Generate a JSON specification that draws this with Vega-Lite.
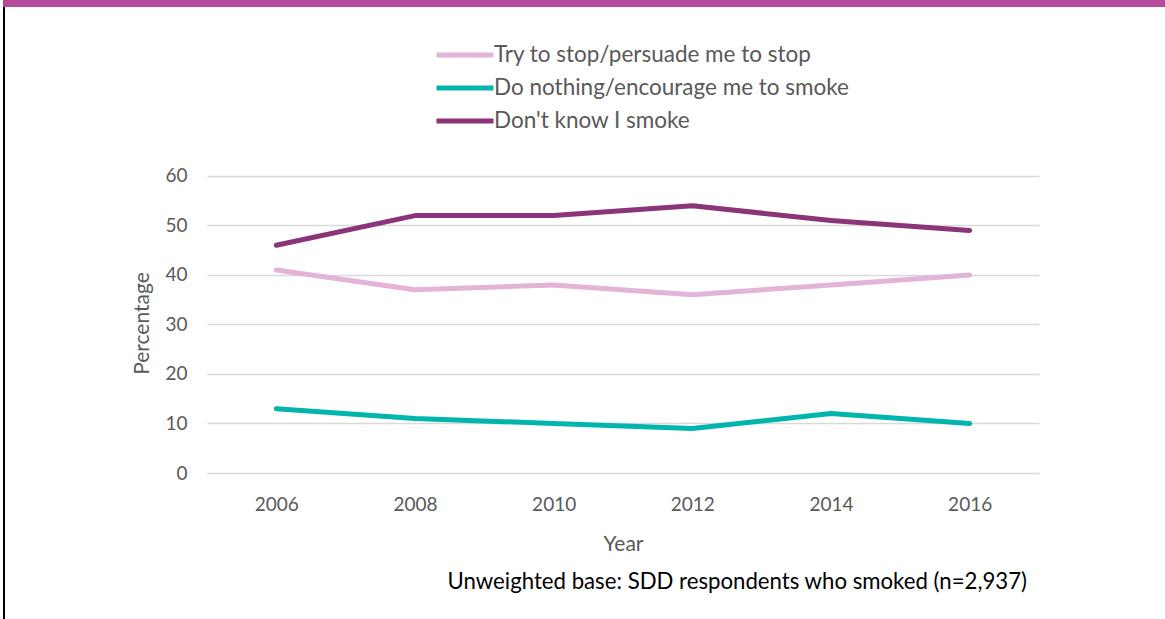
{
  "$schema": "https://vega.github.io/schema/vega-lite/v6.json",
  "padding": {"left": 3, "top": 0, "right": 0, "bottom": 0},
  "background": "white",
  "config": {
    "font": "Lato",
    "view": {"stroke": null},
    "concat": {"spacing": 0}
  },
  "spacing": 0,
  "vconcat": [
    {
      "width": 1162,
      "height": 7,
      "data": {"values": [{"part": "top border"}]},
      "mark": {"type": "rect", "color": "#b54a9a"},
      "encoding": {}
    },
    {
      "spacing": 126,
      "hconcat": [
        {
          "width": 2,
          "height": 612,
          "data": {"values": [{"part": "left border"}]},
          "mark": {"type": "rect", "color": "#000000"},
          "encoding": {}
        },
        {
          "width": 832,
          "height": 466,
          "data": {
            "values": [
              {"year": "2006", "response": "Try to stop/persuade me to stop", "pct": 41},
              {"year": "2008", "response": "Try to stop/persuade me to stop", "pct": 37},
              {"year": "2010", "response": "Try to stop/persuade me to stop", "pct": 38},
              {"year": "2012", "response": "Try to stop/persuade me to stop", "pct": 36},
              {"year": "2014", "response": "Try to stop/persuade me to stop", "pct": 38},
              {"year": "2016", "response": "Try to stop/persuade me to stop", "pct": 40},
              {"year": "2006", "response": "Do nothing/encourage me to smoke", "pct": 13},
              {"year": "2008", "response": "Do nothing/encourage me to smoke", "pct": 11},
              {"year": "2010", "response": "Do nothing/encourage me to smoke", "pct": 10},
              {"year": "2012", "response": "Do nothing/encourage me to smoke", "pct": 9},
              {"year": "2014", "response": "Do nothing/encourage me to smoke", "pct": 12},
              {"year": "2016", "response": "Do nothing/encourage me to smoke", "pct": 10},
              {"year": "2006", "response": "Don't know I smoke", "pct": 46},
              {"year": "2008", "response": "Don't know I smoke", "pct": 52},
              {"year": "2010", "response": "Don't know I smoke", "pct": 52},
              {"year": "2012", "response": "Don't know I smoke", "pct": 54},
              {"year": "2014", "response": "Don't know I smoke", "pct": 51},
              {"year": "2016", "response": "Don't know I smoke", "pct": 49}
            ]
          },
          "title": {
            "text": "Unweighted base: SDD respondents who smoked (n=2,937)",
            "orient": "bottom",
            "anchor": "end",
            "frame": "group",
            "dx": -12,
            "offset": 17,
            "fontSize": 22.2,
            "fontWeight": "normal",
            "color": "#000000"
          },
          "mark": {"type": "line", "strokeWidth": 5, "strokeCap": "round", "strokeJoin": "round"},
          "encoding": {
            "x": {
              "field": "year",
              "type": "ordinal",
              "scale": {"type": "point", "padding": 0.5},
              "axis": {
                "title": "Year",
                "labelAngle": 0,
                "labelFontSize": 19,
                "labelColor": "#595959",
                "labelPadding": 22,
                "ticks": false,
                "domain": false,
                "grid": false,
                "titleFontSize": 21,
                "titleFontWeight": "normal",
                "titleColor": "#595959",
                "titlePadding": 19
              }
            },
            "y": {
              "field": "pct",
              "type": "quantitative",
              "scale": {"domain": [0, 94.14], "nice": false, "zero": true},
              "axis": {
                "title": "Percentage",
                "values": [0, 10, 20, 30, 40, 50, 60],
                "labelFontSize": 19,
                "labelColor": "#595959",
                "labelPadding": 20,
                "ticks": false,
                "domain": false,
                "grid": true,
                "gridColor": "#d9d9d9",
                "gridWidth": 1.5,
                "titleFontSize": 21,
                "titleFontWeight": "normal",
                "titleColor": "#595959",
                "titlePadding": 12,
                "titleY": 316
              }
            },
            "color": {
              "field": "response",
              "type": "nominal",
              "scale": {
                "domain": ["Try to stop/persuade me to stop", "Do nothing/encourage me to smoke", "Don't know I smoke"],
                "range": ["#e2b4d8", "#00b5ad", "#8b3478"]
              },
              "legend": {
                "title": null,
                "orient": "none",
                "legendX": 450,
                "legendY": 43,
                "symbolType": "M-3,0H3",
                "symbolSize": 361,
                "symbolStrokeWidth": 5,
                "labelFontSize": 22.5,
                "labelColor": "#595959",
                "labelOffset": 17,
                "labelLimit": 0,
                "rowPadding": 9
              }
            }
          }
        }
      ]
    }
  ]
}
